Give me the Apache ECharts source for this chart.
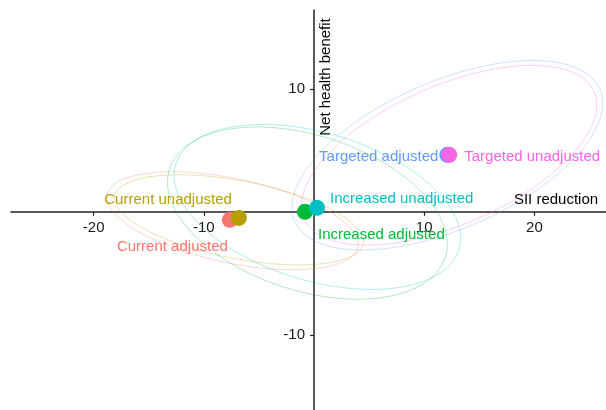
<!DOCTYPE html>
<html>
<head>
<meta charset="utf-8">
<script src="https://cdn.jsdelivr.net/npm/echarts@6/dist/echarts.min.js"></script>
<style>
html,body{margin:0;padding:0;background:#fff;}
#main{width:606px;height:410px;}
</style>
</head>
<body>
<div id="main"></div>
<script>
// groups
var groups = ['Current adjusted', 'Current unadjusted', 'Increased adjusted', 'Increased unadjusted', 'Targeted adjusted', 'Targeted unadjusted'];
// point estimates
var siiReduction = [-7.64, -6.82, -0.82, 0.27, 12.1, 12.27];
var healthBenefit = [-0.65, -0.49, 0.0, 0.33, 4.63, 4.63];
// ellipse: centre, spread and correlation
var ellCx = [-7.4, -6.8, -0.6, 0.3, 12.1, 12.27];
var ellCy = [-0.73, -0.65, -0.1, 0.4, 4.6, 4.6];
var ellSx = [11.4, 11.3, 12.7, 13.0, 14.1, 13.4];
var ellSy = [3.98, 3.66, 7.0, 6.7, 7.7, 7.3];
var ellRho = [-0.48, -0.48, -0.36, -0.38, 0.55, 0.56];
// ticks
var xTicks = [-20, -10, 10, 20];
var yTicks = [-10, 10];

var colors = ['#F8766D', '#B79F00', '#00BA38', '#00BFC4', '#619CFF', '#F564E3'];
// label placement (px) relative to point
var labelAlign = ['right', 'right', 'left', 'left', 'right', 'left'];
var labelOffset = [[-2, 27], [-7, -18], [13, 23], [13, -9], [-9, 2], [15, 2]];
var fontSz = 15;

var myChart = echarts.init(document.getElementById('main'));

function ellipseItem(params, api) {
    var cx = api.value(0), cy = api.value(1), sx = api.value(2), sy = api.value(3), r = api.value(4);
    var k = Math.sqrt(1 - r * r);
    var pts = [];
    for (var i = 0; i < 120; i++) {
        var t = i / 120 * Math.PI * 2;
        pts.push(api.coord([cx + sx * Math.cos(t), cy + sy * (r * Math.cos(t) + k * Math.sin(t))]));
    }
    return {
        type: 'polygon',
        shape: { points: pts },
        style: { fill: 'none', stroke: colors[params.seriesIndex], lineWidth: 1, opacity: 0.3 }
    };
}

var series = [];
groups.forEach(function (g, i) {
    series.push({
        name: g + ' ellipse',
        type: 'custom',
        renderItem: ellipseItem,
        z: 1,
        silent: true,
        encode: { x: 0, y: 1 },
        data: [[ellCx[i], ellCy[i], ellSx[i], ellSy[i], ellRho[i]]]
    });
});
groups.forEach(function (g, i) {
    series.push({
        name: g,
        type: 'scatter',
        z: 5,
        symbolSize: 16,
        itemStyle: { color: colors[i], opacity: 1 },
        label: {
            show: true,
            formatter: g,
            position: 'inside',
            align: labelAlign[i],
            verticalAlign: 'middle',
            offset: labelOffset[i],
            color: colors[i],
            fontSize: fontSz,
            fontFamily: 'Liberation Sans'
        },
        data: [[siiReduction[i], healthBenefit[i]]]
    });
});

var gridBox = { left: 11, right: 0, top: 10, bottom: 0 };

var option = {
    animation: false,
    grid: { left: gridBox.left, right: gridBox.right, top: gridBox.top, bottom: gridBox.bottom, outerBoundsMode: 'none', containLabel: false },
    xAxis: {
        type: 'value',
        min: -27.5,
        max: 26.5,
        position: 'bottom',
        splitLine: { show: false },
        axisLine: { onZero: false, lineStyle: { color: '#222', width: 1.5 } },
        axisTick: { customValues: xTicks, length: 4, lineStyle: { color: '#222', width: 1.2 } },
        axisLabel: { customValues: xTicks, color: '#1a1a1a', fontSize: fontSz, fontFamily: 'Liberation Sans', margin: 9 }
    },
    yAxis: {
        type: 'value',
        min: -16.1,
        max: 16.4,
        position: 'left',
        splitLine: { show: false },
        axisLine: { onZero: false, lineStyle: { color: '#222', width: 1.5 } },
        axisTick: { customValues: yTicks, length: 4, lineStyle: { color: '#222', width: 1.2 } },
        axisLabel: { customValues: yTicks, color: '#1a1a1a', fontSize: fontSz, fontFamily: 'Liberation Sans', margin: 9 }
    },
    graphic: [
        { type: 'text', x: 556, y: 200, style: { text: 'SII reduction', fill: '#000', fontSize: fontSz, fontFamily: 'Liberation Sans', align: 'center', verticalAlign: 'middle' } },
        { type: 'text', x: 326, y: 77, rotation: Math.PI / 2, style: { text: 'Net health benefit', fill: '#000', fontSize: fontSz, fontFamily: 'Liberation Sans', align: 'center', verticalAlign: 'middle' } }
    ],
    series: series
};
myChart.setOption(option);

// move both axes onto the zero lines (labels included)
var zero = myChart.convertToPixel({ gridIndex: 0 }, [0, 0]);
myChart.setOption({
    xAxis: { offset: zero[1] - (410 - gridBox.bottom) },
    yAxis: { offset: gridBox.left - zero[0] }
});
</script>
</body>
</html>
